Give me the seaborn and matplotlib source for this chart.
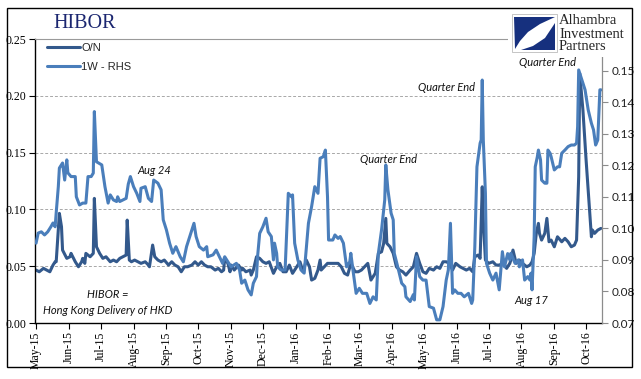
import matplotlib
matplotlib.use("Agg")
import numpy as np
import pandas as pd
import matplotlib.pyplot as plt
import matplotlib.dates as mdates
from matplotlib.patches import Rectangle, Polygon
from matplotlib.ticker import FormatStrFormatter
import seaborn as sns

# ---------------- data ----------------
on_dates = [
    "2015-05-01", "2015-05-04", "2015-05-08", "2015-05-11", "2015-05-14", "2015-05-17", "2015-05-19", "2015-05-20", "2015-05-22", "2015-05-23",
    "2015-05-25", "2015-05-26", "2015-05-30", "2015-06-02", "2015-06-03", "2015-06-07", "2015-06-10", "2015-06-13", "2015-06-14", "2015-06-16",
    "2015-06-17", "2015-06-21", "2015-06-24", "2015-06-25", "2015-06-27", "2015-06-30", "2015-07-03", "2015-07-06", "2015-07-10", "2015-07-13",
    "2015-07-16", "2015-07-19", "2015-07-22", "2015-07-25", "2015-07-26", "2015-07-28", "2015-07-30", "2015-08-02", "2015-08-05", "2015-08-08",
    "2015-08-12", "2015-08-15", "2015-08-16", "2015-08-19", "2015-08-21", "2015-08-24", "2015-08-27", "2015-08-30", "2015-09-03", "2015-09-06",
    "2015-09-09", "2015-09-12", "2015-09-15", "2015-09-18", "2015-09-21", "2015-09-25", "2015-09-28", "2015-10-01", "2015-10-04", "2015-10-07",
    "2015-10-10", "2015-10-13", "2015-10-17", "2015-10-20", "2015-10-23", "2015-10-25", "2015-10-26", "2015-10-29", "2015-10-31", "2015-11-01",
    "2015-11-04", "2015-11-08", "2015-11-11", "2015-11-12", "2015-11-15", "2015-11-19", "2015-11-20", "2015-11-22", "2015-11-25", "2015-11-28",
    "2015-12-01", "2015-12-04", "2015-12-07", "2015-12-11", "2015-12-14", "2015-12-17", "2015-12-20", "2015-12-23", "2015-12-26", "2015-12-29",
    "2016-01-02", "2016-01-05", "2016-01-08", "2016-01-11", "2016-01-14", "2016-01-16", "2016-01-19", "2016-01-22", "2016-01-24", "2016-01-25",
    "2016-01-28", "2016-01-31", "2016-02-05", "2016-02-10", "2016-02-13", "2016-02-16", "2016-02-19", "2016-02-22", "2016-02-26", "2016-02-29",
    "2016-03-03", "2016-03-06", "2016-03-09", "2016-03-12", "2016-03-16", "2016-03-19", "2016-03-22", "2016-03-24", "2016-03-26", "2016-03-27",
    "2016-03-30", "2016-04-02", "2016-04-05", "2016-04-08", "2016-04-11", "2016-04-14", "2016-04-18", "2016-04-21", "2016-04-24", "2016-04-27",
    "2016-04-30", "2016-05-03", "2016-05-06", "2016-05-10", "2016-05-13", "2016-05-16", "2016-05-19", "2016-05-22", "2016-05-25", "2016-05-28",
    "2016-05-31", "2016-06-04", "2016-06-07", "2016-06-10", "2016-06-13", "2016-06-16", "2016-06-18", "2016-06-21", "2016-06-23", "2016-06-25",
    "2016-06-26", "2016-06-28", "2016-07-01", "2016-07-05", "2016-07-08", "2016-07-11", "2016-07-15", "2016-07-18", "2016-07-21", "2016-07-22",
    "2016-07-24", "2016-07-27", "2016-07-30", "2016-08-02", "2016-08-06", "2016-08-09", "2016-08-11", "2016-08-13", "2016-08-15", "2016-08-17",
    "2016-08-18", "2016-08-20", "2016-08-23", "2016-08-25", "2016-08-27", "2016-08-29", "2016-09-01", "2016-09-04", "2016-09-08", "2016-09-11",
    "2016-09-14", "2016-09-17", "2016-09-20", "2016-09-22", "2016-09-24", "2016-09-25", "2016-09-28", "2016-10-01", "2016-10-04", "2016-10-06",
    "2016-10-07", "2016-10-09", "2016-10-12", "2016-10-15",
]
on_values = [
    0.0466, 0.0451, 0.0481, 0.0466, 0.0451, 0.0510, 0.0539, 0.0539, 0.0818, 0.0965,
    0.0847, 0.0642, 0.0569, 0.0583, 0.0613, 0.0539, 0.0495, 0.0539, 0.0569, 0.0525,
    0.0613, 0.0583, 0.0613, 0.1097, 0.0671, 0.0613, 0.0569, 0.0583, 0.0539, 0.0554,
    0.0539, 0.0569, 0.0583, 0.0598, 0.0906, 0.0554, 0.0539, 0.0554, 0.0539, 0.0525,
    0.0539, 0.0510, 0.0495, 0.0686, 0.0583, 0.0554, 0.0539, 0.0554, 0.0510, 0.0539,
    0.0510, 0.0495, 0.0451, 0.0495, 0.0495, 0.0510, 0.0539, 0.0510, 0.0539, 0.0510,
    0.0495, 0.0495, 0.0466, 0.0481, 0.0451, 0.0466, 0.0569, 0.0525, 0.0451, 0.0510,
    0.0466, 0.0510, 0.0466, 0.0481, 0.0451, 0.0466, 0.0422, 0.0466, 0.0583, 0.0569,
    0.0539, 0.0525, 0.0539, 0.0437, 0.0495, 0.0525, 0.0451, 0.0451, 0.0510, 0.0437,
    0.0495, 0.0539, 0.0451, 0.0554, 0.0495, 0.0378, 0.0393, 0.0466, 0.0554, 0.0466,
    0.0495, 0.0525, 0.0525, 0.0525, 0.0495, 0.0437, 0.0422, 0.0525, 0.0451, 0.0451,
    0.0466, 0.0495, 0.0525, 0.0378, 0.0437, 0.0613, 0.0627, 0.0701, 0.0921, 0.0701,
    0.0671, 0.0613, 0.0495, 0.0466, 0.0451, 0.0422, 0.0466, 0.0495, 0.0613, 0.0525,
    0.0451, 0.0437, 0.0481, 0.0466, 0.0495, 0.0481, 0.0539, 0.0539, 0.0525, 0.0466,
    0.0525, 0.0495, 0.0481, 0.0466, 0.0481, 0.0451, 0.0583, 0.0598, 0.0569, 0.1199,
    0.0906, 0.0554, 0.0525, 0.0539, 0.0510, 0.0510, 0.0525, 0.0481, 0.0525, 0.0554,
    0.0642, 0.0525, 0.0554, 0.0525, 0.0495, 0.0510, 0.0539, 0.0613, 0.0789, 0.0877,
    0.0789, 0.0730, 0.0789, 0.0921, 0.0715, 0.0730, 0.0671, 0.0759, 0.0715, 0.0745,
    0.0715, 0.0671, 0.0686, 0.0730, 0.1287, 0.2197, 0.1874, 0.1434, 0.1023, 0.0759,
    0.0818, 0.0789, 0.0818, 0.0833,
]

w1_dates = [
    "2015-05-01", "2015-05-03", "2015-05-06", "2015-05-09", "2015-05-12", "2015-05-15", "2015-05-17", "2015-05-19", "2015-05-20", "2015-05-22",
    "2015-05-23", "2015-05-26", "2015-05-28", "2015-05-30", "2015-05-31", "2015-06-03", "2015-06-07", "2015-06-08", "2015-06-11", "2015-06-14",
    "2015-06-17", "2015-06-19", "2015-06-22", "2015-06-24", "2015-06-25", "2015-06-27", "2015-07-02", "2015-07-05", "2015-07-08", "2015-07-10",
    "2015-07-13", "2015-07-16", "2015-07-17", "2015-07-19", "2015-07-22", "2015-07-25", "2015-07-27", "2015-07-29", "2015-08-01", "2015-08-04",
    "2015-08-07", "2015-08-08", "2015-08-12", "2015-08-15", "2015-08-18", "2015-08-20", "2015-08-24", "2015-08-27", "2015-08-29", "2015-09-01",
    "2015-09-04", "2015-09-07", "2015-09-10", "2015-09-14", "2015-09-17", "2015-09-20", "2015-09-23", "2015-09-27", "2015-09-29", "2015-10-02",
    "2015-10-06", "2015-10-09", "2015-10-10", "2015-10-15", "2015-10-18", "2015-10-21", "2015-10-24", "2015-10-26", "2015-10-29", "2015-11-01",
    "2015-11-06", "2015-11-09", "2015-11-11", "2015-11-14", "2015-11-17", "2015-11-20", "2015-11-22", "2015-11-25", "2015-11-26", "2015-11-28",
    "2015-12-01", "2015-12-04", "2015-12-06", "2015-12-09", "2015-12-11", "2015-12-12", "2015-12-14", "2015-12-15", "2015-12-18", "2015-12-22",
    "2015-12-25", "2015-12-28", "2015-12-29", "2015-12-31", "2016-01-03", "2016-01-06", "2016-01-09", "2016-01-13", "2016-01-16", "2016-01-19",
    "2016-01-22", "2016-01-24", "2016-01-27", "2016-01-29", "2016-01-31", "2016-02-01", "2016-02-05", "2016-02-07", "2016-02-10", "2016-02-12",
    "2016-02-15", "2016-02-18", "2016-02-21", "2016-02-22", "2016-02-24", "2016-02-27", "2016-03-01", "2016-03-04", "2016-03-08", "2016-03-11",
    "2016-03-14", "2016-03-17", "2016-03-19", "2016-03-22", "2016-03-25", "2016-03-26", "2016-03-28", "2016-03-31", "2016-04-02", "2016-04-03",
    "2016-04-07", "2016-04-10", "2016-04-13", "2016-04-14", "2016-04-18", "2016-04-21", "2016-04-22", "2016-04-24", "2016-04-27", "2016-04-30",
    "2016-05-03", "2016-05-06", "2016-05-10", "2016-05-13", "2016-05-16", "2016-05-19", "2016-05-22", "2016-05-24", "2016-05-26", "2016-05-28",
    "2016-05-30", "2016-06-02", "2016-06-05", "2016-06-08", "2016-06-12", "2016-06-15", "2016-06-16", "2016-06-18", "2016-06-20", "2016-06-23",
    "2016-06-24", "2016-06-25", "2016-06-26", "2016-06-28", "2016-06-29", "2016-07-02", "2016-07-05", "2016-07-08", "2016-07-11", "2016-07-14",
    "2016-07-16", "2016-07-19", "2016-07-21", "2016-07-22", "2016-07-26", "2016-07-29", "2016-07-30", "2016-08-02", "2016-08-04", "2016-08-07",
    "2016-08-09", "2016-08-10", "2016-08-11", "2016-08-13", "2016-08-14", "2016-08-16", "2016-08-17", "2016-08-19", "2016-08-20", "2016-08-23",
    "2016-08-25", "2016-08-26", "2016-08-28", "2016-08-29", "2016-09-01", "2016-09-04", "2016-09-06", "2016-09-08", "2016-09-11", "2016-09-14",
    "2016-09-17", "2016-09-20", "2016-09-22", "2016-09-23", "2016-09-24", "2016-09-26", "2016-09-30", "2016-10-03", "2016-10-06", "2016-10-08",
    "2016-10-10", "2016-10-12", "2016-10-14", "2016-10-15",
]
w1_values = [
    0.0953, 0.0985, 0.0989, 0.0979, 0.0989, 0.1005, 0.1017, 0.1005, 0.1049, 0.1132,
    0.1191, 0.1207, 0.1153, 0.1217, 0.1176, 0.1164, 0.1164, 0.1100, 0.1074, 0.1080,
    0.1080, 0.1164, 0.1164, 0.1175, 0.1370, 0.1211, 0.1201, 0.1132, 0.1080, 0.1106,
    0.1090, 0.1085, 0.1100, 0.1085, 0.1090, 0.1095, 0.1140, 0.1164, 0.1132, 0.1111,
    0.1085, 0.1127, 0.1132, 0.1095, 0.1085, 0.1153, 0.1143, 0.1122, 0.1027, 0.0995,
    0.0953, 0.0921, 0.0942, 0.0910, 0.0894, 0.0942, 0.0974, 0.1016, 0.0974, 0.0942,
    0.0931, 0.0942, 0.0910, 0.0916, 0.0931, 0.0910, 0.0889, 0.0910, 0.0894, 0.0878,
    0.0889, 0.0868, 0.0826, 0.0836, 0.0805, 0.0789, 0.0826, 0.0847, 0.0910, 0.0984,
    0.1005, 0.1032, 0.0989, 0.0974, 0.0900, 0.0953, 0.0921, 0.0878, 0.0868, 0.0868,
    0.1111, 0.1100, 0.1106, 0.0953, 0.0900, 0.0868, 0.0858, 0.1016, 0.1069, 0.1132,
    0.1111, 0.1222, 0.1227, 0.1248, 0.1100, 0.0963, 0.0963, 0.0979, 0.0968, 0.0974,
    0.0953, 0.0878, 0.0894, 0.0921, 0.0868, 0.0794, 0.0810, 0.0794, 0.0794, 0.0762,
    0.0783, 0.0773, 0.0921, 0.0995, 0.1090, 0.1201, 0.1122, 0.1048, 0.1027, 0.0921,
    0.0868, 0.0826, 0.0815, 0.0783, 0.0768, 0.0790, 0.0773, 0.0910, 0.0847, 0.0836,
    0.0836, 0.0752, 0.0747, 0.0710, 0.0710, 0.0752, 0.0836, 0.0868, 0.1016, 0.0794,
    0.0805, 0.0794, 0.0794, 0.0783, 0.0794, 0.0762, 0.0773, 0.0942, 0.1195, 0.1270,
    0.1280, 0.1470, 0.1280, 0.1111, 0.0889, 0.0858, 0.0836, 0.0858, 0.0805, 0.0926,
    0.0878, 0.0920, 0.0900, 0.0921, 0.0889, 0.0900, 0.0878, 0.0900, 0.0836, 0.0847,
    0.0836, 0.0858, 0.0805, 0.0974, 0.1195, 0.1227, 0.1248, 0.1217, 0.1153, 0.1143,
    0.1143, 0.1248, 0.1238, 0.1227, 0.1185, 0.1195, 0.1195, 0.1238, 0.1248, 0.1259,
    0.1264, 0.1264, 0.1270, 0.1322, 0.1502, 0.1481, 0.1439, 0.1375, 0.1333, 0.1312,
    0.1264, 0.1280, 0.1439, 0.1439,
]

left_ticks = [0.00, 0.05, 0.10, 0.15, 0.20, 0.25]
right_ticks = [0.07, 0.08, 0.09, 0.10, 0.11, 0.12, 0.13, 0.14, 0.15]
series_labels = ["O/N", "1W - RHS"]
annotations = [
    ("Aug 24", 0.2099, 0.5387),
    ("Quarter End", 0.6226, 0.5740),
    ("Quarter End", 0.7249, 0.8275),
    ("Quarter End", 0.9030, 0.9155),
    ("Aug 17", 0.8748, 0.0775),
    ("HIBOR =", 0.1287, 0.0986),
    ("Hong Kong Delivery of HKD", 0.1287, 0.0423),
]

# ---------------- style ----------------
sns.set_theme(style="white")
plt.rcParams["font.family"] = ["Liberation Sans", "DejaVu Sans"]

ON_COLOR = "#33598C"
W1_COLOR = "#4A7EBB"
W, H = 641, 379


def fx(px):
    return px / W


def fy(py):
    return 1 - py / H


fig = plt.figure(figsize=(W / 100, H / 100), dpi=100)
fig.patch.set_facecolor("white")
ax = fig.add_axes([fx(35), fy(323), fx(602) - fx(35), fy(39) - fy(323)])
ax.set_facecolor("white")
ax2 = ax.twinx()

on_df = pd.DataFrame({"date": pd.to_datetime(on_dates), "rate": on_values})
w1_df = pd.DataFrame({"date": pd.to_datetime(w1_dates), "rate": w1_values})

sns.lineplot(data=on_df, x="date", y="rate", ax=ax, color=ON_COLOR, lw=2.2,
             errorbar=None, label=series_labels[0], legend=False)
sns.lineplot(data=w1_df, x="date", y="rate", ax=ax2, color=W1_COLOR, lw=2.2,
             errorbar=None, label=series_labels[1], legend=False)

ax.set_xlim(pd.Timestamp("2015-04-30"), pd.Timestamp("2016-10-16"))
ax.set_ylim(0, 0.25)
ax2.set_ylim(0.07, 0.16)
for a in (ax, ax2):
    a.set_xlabel("")
    a.set_ylabel("")

# grid
for v in left_ticks[1:-1]:
    ax.axhline(v, color="#A8A8A8", lw=0.7, ls=(0, (3, 2)), zorder=0)

# spines
for s in ax.spines.values():
    s.set_visible(False)
for s in ax2.spines.values():
    s.set_visible(False)
ax.spines["left"].set_visible(True)
ax.spines["left"].set_color("black")
ax.spines["left"].set_linewidth(1.0)
ax.spines["bottom"].set_visible(True)
ax.spines["bottom"].set_color("black")
ax.spines["bottom"].set_linewidth(1.0)
ax.spines["top"].set_visible(True)
ax.spines["top"].set_color("#9A9A9A")
ax.spines["top"].set_linewidth(0.8)
ax2.spines["right"].set_visible(True)
ax2.spines["right"].set_color("#8C8C8C")
ax2.spines["right"].set_linewidth(0.9)

# ticks
ax.xaxis.set_major_locator(mdates.MonthLocator())
ax.xaxis.set_major_formatter(mdates.DateFormatter("%b-%y"))
ax.tick_params(axis="x", direction="out", length=4, width=0.8, color="black",
               labelsize=8.5, labelrotation=90, pad=2, labelcolor="black",
               labelfontfamily="Liberation Serif", bottom=True)
ax.set_yticks(left_ticks)
ax.yaxis.set_major_formatter(FormatStrFormatter("%.2f"))
ax.tick_params(axis="y", direction="out", length=4, width=0.8, color="black",
               labelsize=8.5, pad=2, labelcolor="black",
               labelfontfamily="Liberation Serif", left=True)
ax2.set_yticks(right_ticks)
ax2.yaxis.set_major_formatter(FormatStrFormatter("%.2f"))
ax2.tick_params(axis="y", direction="out", length=4, width=0.8, color="#8C8C8C",
                labelsize=8.5, pad=3, labelcolor="#222222",
                labelfontfamily="Lato", right=True)

# legend
h1 = ax.get_lines()[0]
h2 = ax2.get_lines()[0]
leg = ax2.legend([h1, h2], series_labels, loc="upper left",
                 bbox_to_anchor=(0.022, 0.985), frameon=False, fontsize=8,
                 handlelength=2.9, handletextpad=0.15, labelspacing=0.75,
                 borderpad=0, borderaxespad=0)

# annotations
for txt, xa, ya in annotations:
    ax2.text(xa, ya, txt, transform=ax2.transAxes, ha="center", va="center",
             fontsize=8, style="italic", family=["Lato", "DejaVu Sans"],
             color="#111111", zorder=6)

# title
fig.text(fx(53), fy(24), "HIBOR", ha="left", va="center", fontsize=14.5,
         family=["Liberation Serif"], color="#1B2670")

# logo block
fig.patches.append(Rectangle((fx(508), fy(57)), fx(631) - fx(508), fy(10) - fy(57),
                             transform=fig.transFigure, facecolor="white",
                             edgecolor="none", zorder=10))
fig.patches.append(Rectangle((fx(512), fy(52)), fx(557) - fx(512), fy(14) - fy(52),
                             transform=fig.transFigure, facecolor="white",
                             edgecolor="#BBBBBB", lw=0.6, zorder=11))
logo_a = [(514, 17), (555, 17), (540, 24), (528, 32), (520, 41), (515, 49)]
logo_b = [(555, 23), (555, 50), (521, 50), (533, 46), (545, 38)]
for poly in (logo_a, logo_b):
    fig.patches.append(Polygon([(fx(px), fy(py)) for px, py in poly], closed=True,
                               transform=fig.transFigure, facecolor="#16307E",
                               edgecolor="none", zorder=12))
for txt, py in (("Alhambra", 21), ("Investment", 34), ("Partners", 47)):
    fig.text(fx(559), fy(py), txt, ha="left", va="center", fontsize=10.5,
             family=["Liberation Serif"], color="#262626", zorder=13)

# outer frame
fig.patches.append(Rectangle((fx(7), fy(367)), fx(632) - fx(7), fy(8) - fy(367),
                             transform=fig.transFigure, facecolor="none",
                             edgecolor="black", lw=1.0, zorder=14))

fig.savefig("out.png", dpi=100, facecolor="white")
